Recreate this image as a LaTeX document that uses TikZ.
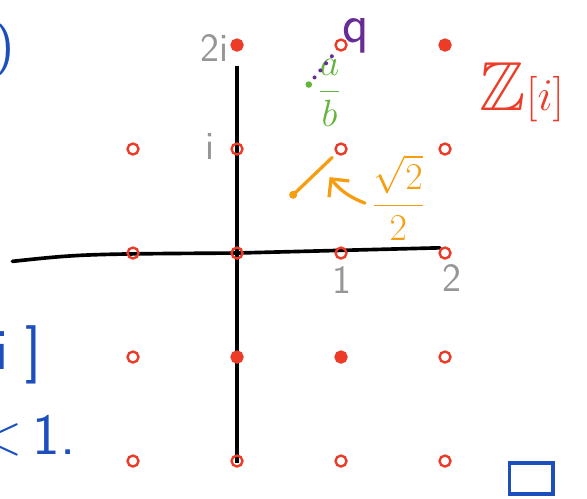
\documentclass[tikz,border=0pt]{standalone}
\usepackage{amsmath,amssymb}
\usepackage{tikz}
\usetikzlibrary{arrows.meta}
\usepackage{xcolor}
\definecolor{ptred}{RGB}{236,60,40}
\definecolor{inkblue}{RGB}{28,78,190}
\definecolor{inkorange}{RGB}{246,158,18}
\definecolor{inkgreen}{RGB}{98,180,58}
\definecolor{inkpurple}{RGB}{104,44,150}
\definecolor{inkgray}{RGB}{150,150,150}
\tikzset{
  ring/.style={circle, draw=ptred, line width=1.3pt, minimum size=6pt, inner sep=0pt},
  lbl/.style={inkgray, font=\fontsize{22}{24}\selectfont\sffamily},
  bigblue/.style={inkblue, inner sep=0pt, font=\fontsize{32}{36}\selectfont\sffamily}
}

\begin{document}
\begin{tikzpicture}[scale=2]
  \useasboundingbox (-2.279,-2.356) rectangle (3.365,2.433);
  \coordinate (xl) at (-2.16,-0.08);
  \coordinate (xr) at (1.95,0.05);
  \coordinate (yt) at (0,1.80);
  \coordinate (yb) at (0,-2.02);
  \draw[line width=2pt, line cap=round] (xl) .. controls (-1.5,-0.01) .. (0,0) -- (xr);
  \draw[line width=2pt] (yt) -- (yb);
  % the lattice
  \foreach \x in {-1,...,2}
    \foreach \y in {-2,...,1}
      \node[ring] (p\x-\y) at (\x,\y) {};
  \foreach \x in {0,1,2}
    \node[ring] (p\x-2) at (\x,2) {};
  \foreach \x/\y in {0/2,2/2,0/-1,1/-1}
    \fill[ptred] (p\x-\y) circle (1.4pt);
  \node[lbl] (twoi) at (-0.22,1.97) {2i};
  \node[lbl] (onei) at (-0.26,1.02) {i};
  \node[lbl] (one) at (1.01,-0.26) {1};
  \node[lbl] (two) at (2.07,-0.24) {2};
  \node[ptred, font=\fontsize{38}{42}\selectfont] (zi) at (2.74,1.55) {$\mathbb{Z}[i]$};
  % a/b and q
  \coordinate (gdot) at (0.69,1.62);
  \fill[inkgreen] (gdot) circle (0.9pt);
  \node[inkgreen, font=\fontsize{20}{22}\selectfont] (ab) at (0.89,1.54) {$\dfrac{a}{b}$};
  \node[inkpurple, font=\fontsize{30}{32}\selectfont\sffamily] (q) at (1.14,2.09) {q};
  \draw[inkpurple, line width=2.2pt, line cap=round, dash pattern=on 0pt off 5pt,
    shorten <=5pt, shorten >=4pt] (gdot) -- (p1-2);
  % sqrt2/2
  \coordinate (odot) at (0.54,0.56);
  \fill[inkorange] (odot) circle (1.1pt);
  \draw[inkorange, line width=1.8pt, line cap=round, shorten >=3pt] (odot) -- (p1-1);
  \node[inkorange, font=\fontsize{20}{22}\selectfont] (rt) at (1.55,0.53) {$\dfrac{\sqrt{2}}{2}$};
  \coordinate (tail) at (1.23,0.48);
  \coordinate (tip) at (0.89,0.73);
  \draw[inkorange, line width=1.8pt, line cap=round, -{Straight Barb[length=2.5mm]}]
    (tail) to[bend left=15] (tip);
  % what is left of the blue writing
  \node[bigblue, anchor=east, font=\fontsize{28}{32}\selectfont\sffamily] (paren) at (-2.14,1.95) {)};
  \node[bigblue, anchor=east] (ibr) at (-1.88,-0.98) {[i\kern9pt]};
  \node[bigblue, anchor=base east] (lessone) at (-1.55,-1.94) {<\kern5pt 1.};
  \node[draw=inkblue, line width=2pt, minimum width=24pt, minimum height=17pt] (qed) at (2.83,-2.17) {};
\end{tikzpicture}
\end{document}
